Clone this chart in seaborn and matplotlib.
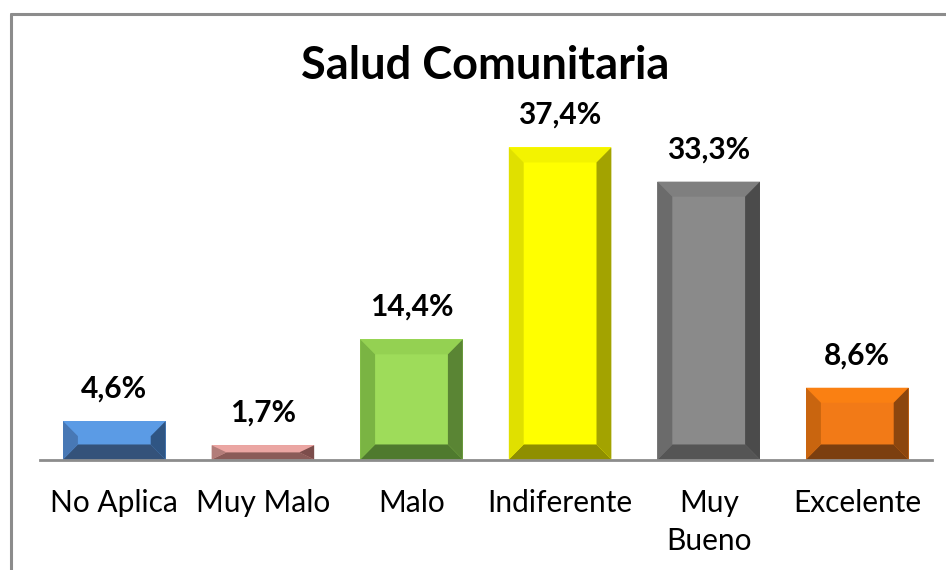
import numpy as np
import pandas as pd
import matplotlib.pyplot as plt
import seaborn as sns
from matplotlib.patches import Polygon

# ============================================
# DATA
# ============================================
categorias = ['No Aplica', 'Muy Malo', 'Malo', 'Indiferente', 'Muy\nBueno', 'Excelente']
porcentajes = [4.6, 1.7, 14.4, 37.4, 33.3, 8.6]
etiquetas = ['4,6%', '1,7%', '14,4%', '37,4%', '33,3%', '8,6%']

# face, top, left, right, bottom
colores = [
    ('#5B9BE5', '#5B9BE5', '#4878B5', '#2F5583', '#34527A'),
    ('#E9A19E', '#EBA6A3', '#B27C79', '#7C4D4B', '#8A5B58'),
    ('#9EDC5A', '#94D152', '#7AB443', '#5A8534', '#4F7A2E'),
    ('#FFFF00', '#F3F300', '#E0E000', '#A3A300', '#8F8F00'),
    ('#8A8A8A', '#7F7F7F', '#6B6B6B', '#4B4B4B', '#555555'),
    ('#F27A17', '#FA8012', '#C9650F', '#8C460E', '#7C3F0F'),
]

df = pd.DataFrame({'categoria': categorias, 'valor': porcentajes})

sns.set_style('white')
plt.rcParams['font.family'] = ['Lato', 'DejaVu Sans']

fig = plt.figure(figsize=(9.46, 5.70), dpi=100)
ax = fig.add_axes([40 / 946, 110.5 / 570, 891.6 / 946, (459.5 - 84) / 570])

sns.barplot(data=df, x='categoria', y='valor', hue='categoria',
            palette=[c[0] for c in colores], width=0.69, ax=ax,
            legend=False, saturation=1)

ax.set_ylim(0, 45)
ax.set_xlim(-0.5, len(categorias) - 0.5)

# bevel sizes in data units (about 15 px)
bx = 0.10
by = 1.8

for bar, col, txt in zip(ax.patches, colores, etiquetas):
    x0 = bar.get_x()
    w = bar.get_width()
    h = bar.get_height()
    x1 = x0 + w
    byy = min(by, h / 2)
    face, top, left, right, bottom = col
    bar.set_edgecolor('none')
    ax.add_patch(Polygon([(x0, h), (x1, h), (x1 - bx, h - byy), (x0 + bx, h - byy)],
                         closed=True, facecolor=top, edgecolor='none'))
    ax.add_patch(Polygon([(x0, 0), (x1, 0), (x1 - bx, byy), (x0 + bx, byy)],
                         closed=True, facecolor=bottom, edgecolor='none'))
    ax.add_patch(Polygon([(x0, 0), (x0 + bx, byy), (x0 + bx, h - byy), (x0, h)],
                         closed=True, facecolor=left, edgecolor='none'))
    ax.add_patch(Polygon([(x1, 0), (x1 - bx, byy), (x1 - bx, h - byy), (x1, h)],
                         closed=True, facecolor=right, edgecolor='none'))
    ax.text(x0 + w / 2, h + 2.2, txt, ha='center', va='bottom',
            fontsize=21.5, fontweight='bold', color='#000000')

for s in ['top', 'right', 'left']:
    ax.spines[s].set_visible(False)
ax.spines['bottom'].set_color('#8C8C8C')
ax.spines['bottom'].set_linewidth(2)
ax.set_yticks([])
ax.set_xlabel('')
ax.set_ylabel('')
ax.tick_params(axis='x', length=0, labelsize=21.5, pad=21.5, colors='#000000')
for lbl in ax.get_xticklabels():
    lbl.set_verticalalignment('top')
    lbl.set_linespacing(1.4)

fig.text(485 / 946, 1 - 66 / 570, 'Salud Comunitaria', ha='center', va='center',
         fontsize=32.5, fontweight='bold', color='#000000')

# outer chart border (left and top visible)
fig.add_artist(plt.Line2D([10.5 / 946, 10.5 / 946], [0, 1 - 14 / 570],
                          color='#8C8C8C', linewidth=2.2, transform=fig.transFigure))
fig.add_artist(plt.Line2D([10.5 / 946, 1], [1 - 14 / 570, 1 - 14 / 570],
                          color='#8C8C8C', linewidth=2.2, transform=fig.transFigure))

plt.savefig('out.png', dpi=100)
plt.close()
